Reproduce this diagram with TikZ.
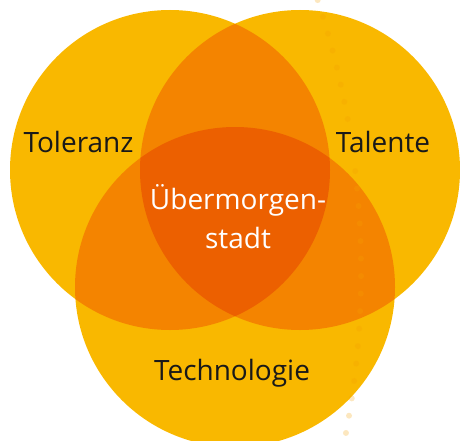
\documentclass[tikz,border=0pt]{standalone}
\usepackage{fontspec}
\setmainfont{Open Sans}
\usetikzlibrary{calc}

\definecolor{vennyellow}{HTML}{F9B800}
\definecolor{vennorange}{HTML}{F48400}
\definecolor{venndark}{HTML}{EC6000}
\definecolor{dotcol}{HTML}{F5A000}

\begin{document}
\begin{tikzpicture}[x=1pt,y=-1pt,
    vennlabel/.style={font=\fontsize{28}{32}\selectfont,anchor=base,inner sep=0pt,text=black!90}]
  \useasboundingbox (0,0) rectangle (460,441);
  \coordinate (tol) at (170,170);
  \coordinate (tal) at (300,170);
  \coordinate (tech) at (235,287);
  \fill[vennyellow] (tol) circle[radius=160] (tal) circle[radius=160] (tech) circle[radius=160];
  % overlaps of two
  \begin{scope}
    \clip (tol) circle[radius=160];
    \fill[vennorange] (tal) circle[radius=160] (tech) circle[radius=160];
  \end{scope}
  \begin{scope}
    \clip (tal) circle[radius=160];
    \fill[vennorange] (tech) circle[radius=160];
  \end{scope}
  % overlap of all three
  \begin{scope}
    \clip (tol) circle[radius=160];
    \clip (tal) circle[radius=160];
    \fill[venndark] (tech) circle[radius=160];
  \end{scope}
  % dotted arc
  \coordinate (arcc) at (-509.4,271.5);
  \foreach \k in {0,...,7,10,11,...,25}
    \fill[dotcol,opacity=0.25] ($(arcc)+({-18.17+1.1544*\k}:870.5)$) circle[radius=3];
  \node[vennlabel] (toleranz) at (78.5,152) {Toleranz};
  \node[vennlabel] (talente) at (383,152) {Talente};
  \node[vennlabel] (technologie) at (232,380) {Technologie};
  \node[vennlabel,text=white] (uebermorgen) at (238,209) {Übermorgen-};
  \node[vennlabel,text=white] (stadt) at (238,248) {stadt};
\end{tikzpicture}
\end{document}
